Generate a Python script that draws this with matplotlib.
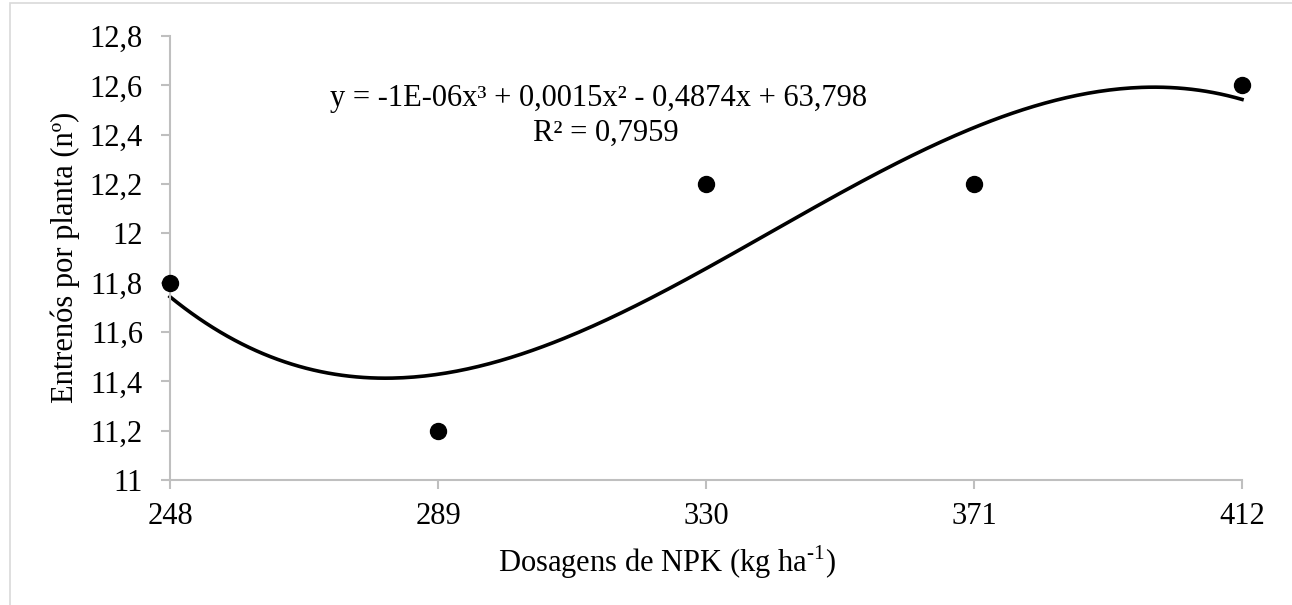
import numpy as np
import matplotlib
matplotlib.use('Agg')
import matplotlib.pyplot as plt
from matplotlib.ticker import FuncFormatter
from matplotlib.patches import Rectangle

dose = [248, 289, 330, 371, 412]
entrenos = [11.8, 11.2, 12.2, 12.2, 12.6]
y_ticks = [11, 11.2, 11.4, 11.6, 11.8, 12, 12.2, 12.4, 12.6, 12.8]
equation = 'y = -1E-06x³ + 0,0015x² - 0,4874x + 63,798'
r2_text = 'R² = 0,7959'

plt.rcParams['font.family'] = ['Liberation Serif', 'DejaVu Serif']
plt.rcParams['mathtext.fontset'] = 'custom'
plt.rcParams['mathtext.rm'] = 'Liberation Serif'

W, H = 1292, 605
grey = '#BFBFBF'
fs = 22

fig = plt.figure(figsize=(W / 100, H / 100), dpi=100)
ax = fig.add_axes([170 / W, 1 - 480 / H, (1242 - 170) / W, (480 - 36) / H])

# cubic trendline fitted to the points (as the spreadsheet did)
coef = np.polyfit(dose, entrenos, 3)
xs = np.linspace(min(dose), max(dose), 300)
ax.plot(xs, np.polyval(coef, xs), color='black', lw=2.6, clip_on=False)
ax.plot(dose, entrenos, 'o', color='black', ms=11.5, clip_on=False, zorder=3)

ax.set_xlim(248, 412)
ax.set_ylim(11, 12.8)
ax.set_xticks(dose)
ax.set_yticks(y_ticks)
ax.yaxis.set_major_formatter(FuncFormatter(lambda v, p: ('%g' % round(v, 1)).replace('.', ',')))

for s in ['top', 'right']:
    ax.spines[s].set_visible(False)
for s in ['left', 'bottom']:
    ax.spines[s].set_color(grey)
    ax.spines[s].set_linewidth(1.5)
ax.tick_params(axis='both', colors=grey, width=1.5, length=6.5, labelsize=fs, labelcolor='black')
ax.tick_params(axis='y', pad=13)
ax.tick_params(axis='x', pad=9)

fig.text(667 / W, 1 - 572 / H, r'Dosagens de NPK (kg ha$^{\text{-1}}$)',
         fontsize=fs, ha='center', va='baseline')
fig.text(65 / W, 1 - 257 / H, 'Entrenós por planta (nº)', fontsize=fs,
         rotation=90, ha='center', va='center')

fig.text(599 / W, 1 - 106 / H, equation, fontsize=fs, ha='center', va='baseline')
fig.text(606 / W, 1 - 141 / H, r2_text, fontsize=fs, ha='center', va='baseline')

# chart frame (cropped at right and bottom in the original)
fig.patches.append(Rectangle((10 / W, -0.1), 1.2, 1 - 3 / H + 0.1,
                             transform=fig.transFigure, fill=False,
                             edgecolor='#D9D9D9', lw=1.2))

fig.savefig('out.png', dpi=100)
